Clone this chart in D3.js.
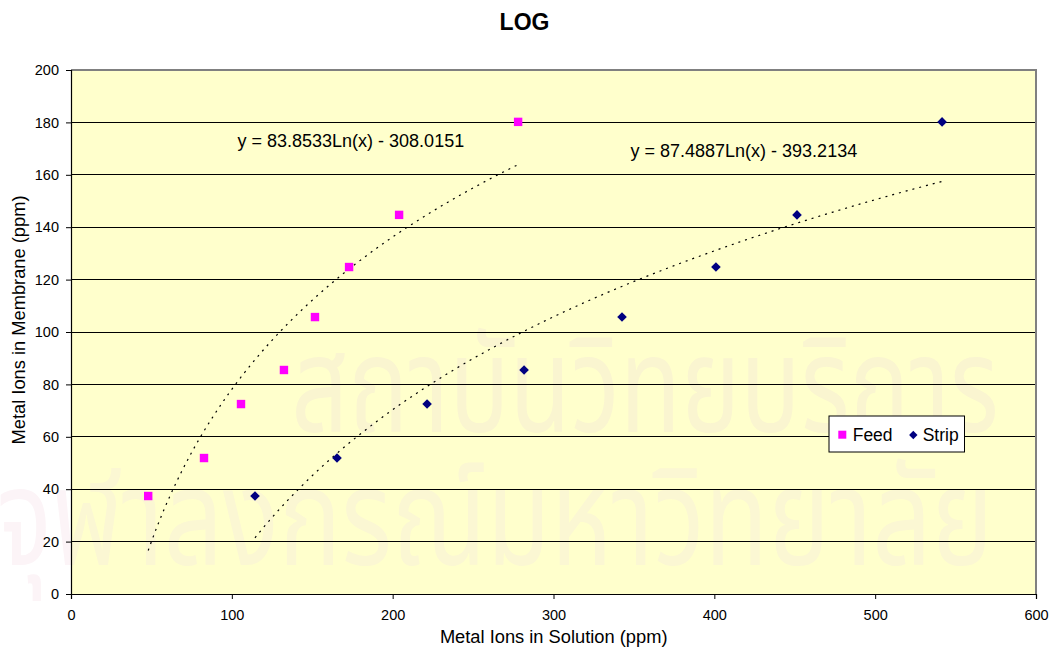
<!DOCTYPE html>
<html>
<head>
<meta charset="utf-8">
<script src="https://cdn.jsdelivr.net/npm/d3@7"></script>
<style>
  body { margin: 0; background: #fff; }
  svg { font-family: "Liberation Sans", Arial, sans-serif; }
</style>
</head>
<body>
<svg id="chart" width="1056" height="651"></svg>
<script>
// data
var feedX = [48, 82.7, 105.7, 132.4, 151.7, 172.9, 204, 278];
var feedY = [37.4, 51.9, 72.5, 85.5, 105.7, 124.8, 144.7, 180.2];
var stripX = [114.4, 165.4, 221.4, 281.7, 342.6, 401, 451.4, 541.6];
var stripY = [37.4, 51.9, 72.5, 85.5, 105.7, 124.8, 144.7, 180.2];
// trendline coefficients (y = a ln(x) + b), as printed on the chart
var feedFit = [83.8533, -308.0151];
var stripFit = [87.4887, -393.2134];
var xTicks = [0, 100, 200, 300, 400, 500, 600];
var yTicks = [0, 20, 40, 60, 80, 100, 120, 140, 160, 180, 200];

var svg = d3.select("#chart");
var pLeft = 71, pTop = 70, pRight = 1036, pBottom = 594;

var x = d3.scaleLinear().domain([0, 600]).range([pLeft, pRight]);
var y = d3.scaleLinear().domain([0, 200]).range([pBottom, pTop]);

var thaiFont = "'Noto Sans Thai', 'Noto Sans', 'DejaVu Sans', sans-serif";

// watermark part that shows outside the plot (pinkish on white)
svg.append("text")
  .attr("transform", "translate(495,565) scale(1,1.3)")
  .attr("text-anchor", "middle")
  .attr("font-size", 104)
  .attr("font-family", thaiFont)
  .attr("fill", "#FCF4F7")
  .attr("pointer-events", "none")
  .text("จุฬาลงกรณ์มหาวิทยาลัย");

// plot area
svg.append("rect")
  .attr("x", pLeft).attr("y", pTop)
  .attr("width", pRight - pLeft).attr("height", pBottom - pTop)
  .attr("fill", "#FFFFCC");

svg.append("clipPath").attr("id", "plotclip")
  .append("rect")
  .attr("x", pLeft).attr("y", pTop)
  .attr("width", pRight - pLeft).attr("height", pBottom - pTop);

// faint watermark inside the plot
var wm = svg.append("g").attr("clip-path", "url(#plotclip)").attr("pointer-events", "none");
wm.append("text")
  .attr("transform", "translate(645,432) scale(1,1.35)")
  .attr("text-anchor", "middle")
  .attr("font-size", 100)
  .attr("font-family", thaiFont)
  .attr("fill", "#FAF5D0")
  .text("สถาบันวิทยบริการ");
wm.append("text")
  .attr("transform", "translate(495,565) scale(1,1.3)")
  .attr("text-anchor", "middle")
  .attr("font-size", 104)
  .attr("font-family", thaiFont)
  .attr("fill", "#FBF7D3")
  .text("จุฬาลงกรณ์มหาวิทยาลัย");

// grid lines
svg.append("g")
  .selectAll("line")
  .data(yTicks.filter(d => d > 0 && d < 200))
  .enter().append("line")
  .attr("x1", pLeft).attr("x2", pRight)
  .attr("y1", d => y(d)).attr("y2", d => y(d))
  .attr("stroke", "#000").attr("stroke-width", 1)
  .attr("shape-rendering", "crispEdges");

// top & right border
svg.append("path")
  .attr("d", "M" + pLeft + "," + pTop + "H" + pRight + "V" + pBottom)
  .attr("fill", "none").attr("stroke", "#808080").attr("stroke-width", 1.5)
  .attr("shape-rendering", "crispEdges");

// axes
var xAxis = svg.append("g")
  .attr("transform", "translate(0," + pBottom + ")")
  .call(d3.axisBottom(x).tickValues(xTicks).tickSize(5).tickPadding(11));
var yAxis = svg.append("g")
  .attr("transform", "translate(" + pLeft + ",0)")
  .call(d3.axisLeft(y).tickValues(yTicks).tickSize(5).tickPadding(7));
[xAxis, yAxis].forEach(function(ax) {
  ax.select(".domain").attr("stroke", "#000").attr("stroke-width", 1.2);
  ax.selectAll(".tick line").attr("stroke", "#000");
  ax.selectAll("text")
    .attr("font-size", 14.5)
    .attr("font-family", "'Liberation Sans', Arial, sans-serif")
    .attr("fill", "#000");
});

// trendlines
function fitLine(fit, xs) {
  var lo = d3.min(xs), hi = d3.max(xs);
  var pts = d3.range(0, 101).map(function(i) {
    var v = lo + (hi - lo) * i / 100;
    return [v, fit[0] * Math.log(v) + fit[1]];
  });
  svg.append("path")
    .datum(pts)
    .attr("d", d3.line().x(d => x(d[0])).y(d => y(d[1])))
    .attr("fill", "none")
    .attr("stroke", "#000")
    .attr("stroke-width", 1.2)
    .attr("stroke-dasharray", "2,5");
}
fitLine(feedFit, feedX);
fitLine(stripFit, stripX);

// markers
svg.append("g")
  .selectAll("rect")
  .data(d3.zip(feedX, feedY))
  .enter().append("rect")
  .attr("x", d => x(d[0]) - 4.2).attr("y", d => y(d[1]) - 4.2)
  .attr("width", 8.4).attr("height", 8.4)
  .attr("fill", "#FF00FF");

svg.append("g")
  .selectAll("path")
  .data(d3.zip(stripX, stripY))
  .enter().append("path")
  .attr("d", "M0,-4.8L4.8,0L0,4.8L-4.8,0Z")
  .attr("transform", d => "translate(" + x(d[0]) + "," + y(d[1]) + ")")
  .attr("fill", "#000080");

// equations
svg.append("text")
  .attr("x", 237.5).attr("y", 147)
  .attr("font-size", 18)
  .text("y = 83.8533Ln(x) - 308.0151");
svg.append("text")
  .attr("x", 630.5).attr("y", 157)
  .attr("font-size", 18)
  .text("y = 87.4887Ln(x) - 393.2134");

// legend
var lg = svg.append("g").attr("transform", "translate(829,416)");
lg.append("rect")
  .attr("width", 135.5).attr("height", 36)
  .attr("fill", "#fff").attr("stroke", "#000").attr("stroke-width", 1);
lg.append("rect")
  .attr("x", 9.3).attr("y", 14.7).attr("width", 8).attr("height", 8)
  .attr("fill", "#FF00FF");
lg.append("text").attr("x", 23.7).attr("y", 24.7).attr("font-size", 17.5).text("Feed");
lg.append("path")
  .attr("d", "M0,-4.2L4.2,0L0,4.2L-4.2,0Z")
  .attr("transform", "translate(84.3,19)")
  .attr("fill", "#000080");
lg.append("text").attr("x", 93.7).attr("y", 24.7).attr("font-size", 17.5).text("Strip");

// titles
svg.append("text")
  .attr("x", 524.5).attr("y", 30)
  .attr("text-anchor", "middle")
  .attr("font-size", 23).attr("font-weight", "bold")
  .text("LOG");
svg.append("text")
  .attr("x", 553.7).attr("y", 643)
  .attr("text-anchor", "middle")
  .attr("font-size", 18.3)
  .text("Metal Ions in Solution (ppm)");
svg.append("text")
  .attr("transform", "translate(25,320) rotate(-90)")
  .attr("text-anchor", "middle")
  .attr("font-size", 18.3)
  .text("Metal Ions in Membrane (ppm)");
</script>
</body>
</html>
